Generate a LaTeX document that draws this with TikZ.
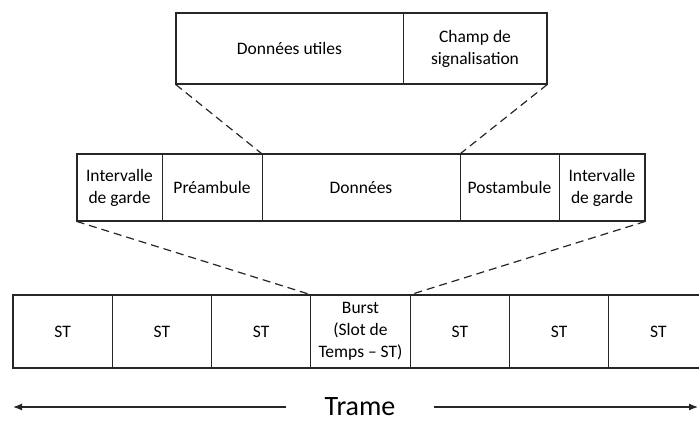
\documentclass[tikz,border=0pt]{standalone}
\usepackage{fontspec}
\setmainfont{Carlito}
\usepackage{tikz}
\usetikzlibrary{arrows.meta, positioning, calc}

\begin{document}
\begin{tikzpicture}[x=1pt, y=-1pt,
  cell/.style={rectangle, draw=black!85, line width=0.8pt, inner sep=0pt,
               align=center, font=\fontsize{17.5}{22}\selectfont},
  frame/.style={draw=black!85, line width=2pt},
  zoomline/.style={black!85, line width=1.2pt, dash pattern=on 8pt off 5pt},
  arr/.style={-{Latex[length=9pt, width=7pt]}, black!85, line width=1.2pt}
]
  \useasboundingbox (0,0) rectangle (699,422);

  % sous-trame du burst
  \node[cell, minimum width=227pt, minimum height=71pt] (du) at (289.5,48.5) {Données utiles};
  \node[cell, minimum width=144pt, minimum height=71pt] (cs) at (475,48.5) {Champ de\\signalisation};
  \draw[frame] (du.north west) rectangle (cs.south east);

  % burst
  \node[cell, minimum width=85pt,  minimum height=67pt] (ig1) at (119.5,187.5) {Intervalle\\de garde};
  \node[cell, minimum width=100pt, minimum height=67pt] (pre) at (212,187.5)   {Préambule};
  \node[cell, minimum width=198pt, minimum height=67pt] (don) at (361,187.5)   {Données};
  \node[cell, minimum width=99pt,  minimum height=67pt] (post) at (509.5,187.5) {Postambule};
  \node[cell, minimum width=86pt,  minimum height=67pt] (ig2) at (602,187.5)   {Intervalle\\de garde};
  \draw[frame] (ig1.north west) rectangle (ig2.south east);

  % trame
  \foreach \i in {0,1,2,4,5,6}
    \node[cell, minimum width=99.3pt, minimum height=73pt] (st\i) at ({62.6+99.3*\i},331.5) {ST};
  \node[cell, minimum width=99.3pt, minimum height=73pt] (burst) at (360.5,331.5) {Burst\\(Slot de\\Temps – ST)};
  \draw[frame] (st0.north west) rectangle (st6.south east);

  % agrandissements
  \draw[zoomline] (du.south west) -- (don.north west);
  \draw[zoomline] (cs.south east) -- (don.north east);
  \draw[zoomline] (ig1.south west) -- (burst.north west);
  \draw[zoomline] (ig2.south east) -- (burst.north east);

  % duree de la trame
  \node[font=\fontsize{28}{32}\selectfont, inner xsep=38pt, inner ysep=0pt] (trame) at (360,407) {Trame};
  \coordinate (gauche) at (13,407);
  \coordinate (droite) at (698,407);
  \draw[arr] (trame.west) -- (gauche);
  \draw[arr] (trame.east) -- (droite);
\end{tikzpicture}
\end{document}
